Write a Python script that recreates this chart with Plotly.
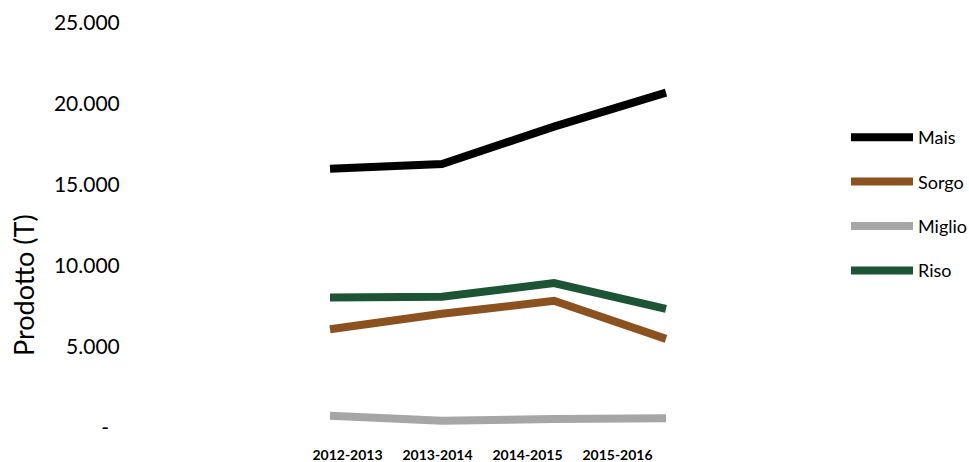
import plotly.graph_objects as go

categories = ["2012-2013", "2013-2014", "2014-2015", "2015-2016"]
mais = [16000, 16300, 18600, 20700]
sorgo = [6100, 7050, 7850, 5500]
miglio = [750, 450, 550, 600]
riso = [8050, 8100, 8950, 7350]

series_names = ["Mais", "Sorgo", "Miglio", "Riso"]
series_values = [mais, sorgo, miglio, riso]
series_colors = ["#000000", "#8B5220", "#A6A6A6", "#1C5434"]

y_tickvals = [0, 5000, 10000, 15000, 20000, 25000]
y_ticktext = ["-\u00a0\u00a0", "5.000", "10.000", "15.000", "20.000", "25.000"]
y_title = "Prodotto (T)"

idx = list(range(len(categories)))

fig = go.Figure()
for name, vals, col in zip(series_names, series_values, series_colors):
    fig.add_trace(go.Scatter(
        x=idx, y=vals, mode="lines", name=name, legendgroup=name,
        line=dict(color=col, width=8),
    ))

# hidden trace carrying the category labels axis
fig.add_trace(go.Scatter(x=idx, y=[None] * len(idx), xaxis="x2", showlegend=False,
                         hoverinfo="skip", mode="lines"))

L, R, T, B = 130, 260, 23, 34
W, H = 969, 462
pw = W - L - R
x0_px, x3_px = 330, 666
u = (x3_px - x0_px) / 3
xr = [-(x0_px - L) / u, 3 + (L + pw - x3_px) / u]
l0_px, l3_px = 347.5, 617.5
u2 = (l3_px - l0_px) / 3
xr2 = [-(l0_px - L) / u2, 3 + (L + pw - l3_px) / u2]

fig.update_layout(
    width=W, height=H,
    margin=dict(l=L, r=R, t=T, b=B),
    paper_bgcolor="white", plot_bgcolor="white",
    xaxis=dict(range=xr, showgrid=False, zeroline=False, showticklabels=False,
               showline=False, ticks="", automargin=False),
    xaxis2=dict(range=xr2, overlaying="x", side="bottom", showgrid=False,
                zeroline=False, showline=False, tickmode="array", automargin=False,
                tickvals=idx, ticktext=categories, ticks="outside",
                ticklen=14, tickcolor="rgba(0,0,0,0)",
                tickfont=dict(family="Lato", size=14, color="#000000", weight="bold")),
    yaxis=dict(range=[0, 25000], tickvals=y_tickvals, ticktext=y_ticktext,
               showgrid=False, zeroline=False, showline=False, automargin=False,
               ticks="outside", ticklen=5, tickcolor="rgba(0,0,0,0)",
               tickfont=dict(family="Lato", size=21, color="#000000")),
    annotations=[dict(text=y_title, textangle=-90, xref="paper", yref="paper",
                      x=(23 - L) / pw, y=(H - B - 285) / (H - T - B),
                      xanchor="center", yanchor="middle", showarrow=False,
                      font=dict(family="Lato", size=27, color="#000000"))],
    legend=dict(x=846 / W, xref="container", y=1 - 119 / H, yref="container",
                xanchor="left", yanchor="top",
                font=dict(family="Lato", size=18, color="#000000"),
                tracegroupgap=18, traceorder="grouped", itemwidth=62),
    showlegend=True,
)

fig.write_html("out.html")
